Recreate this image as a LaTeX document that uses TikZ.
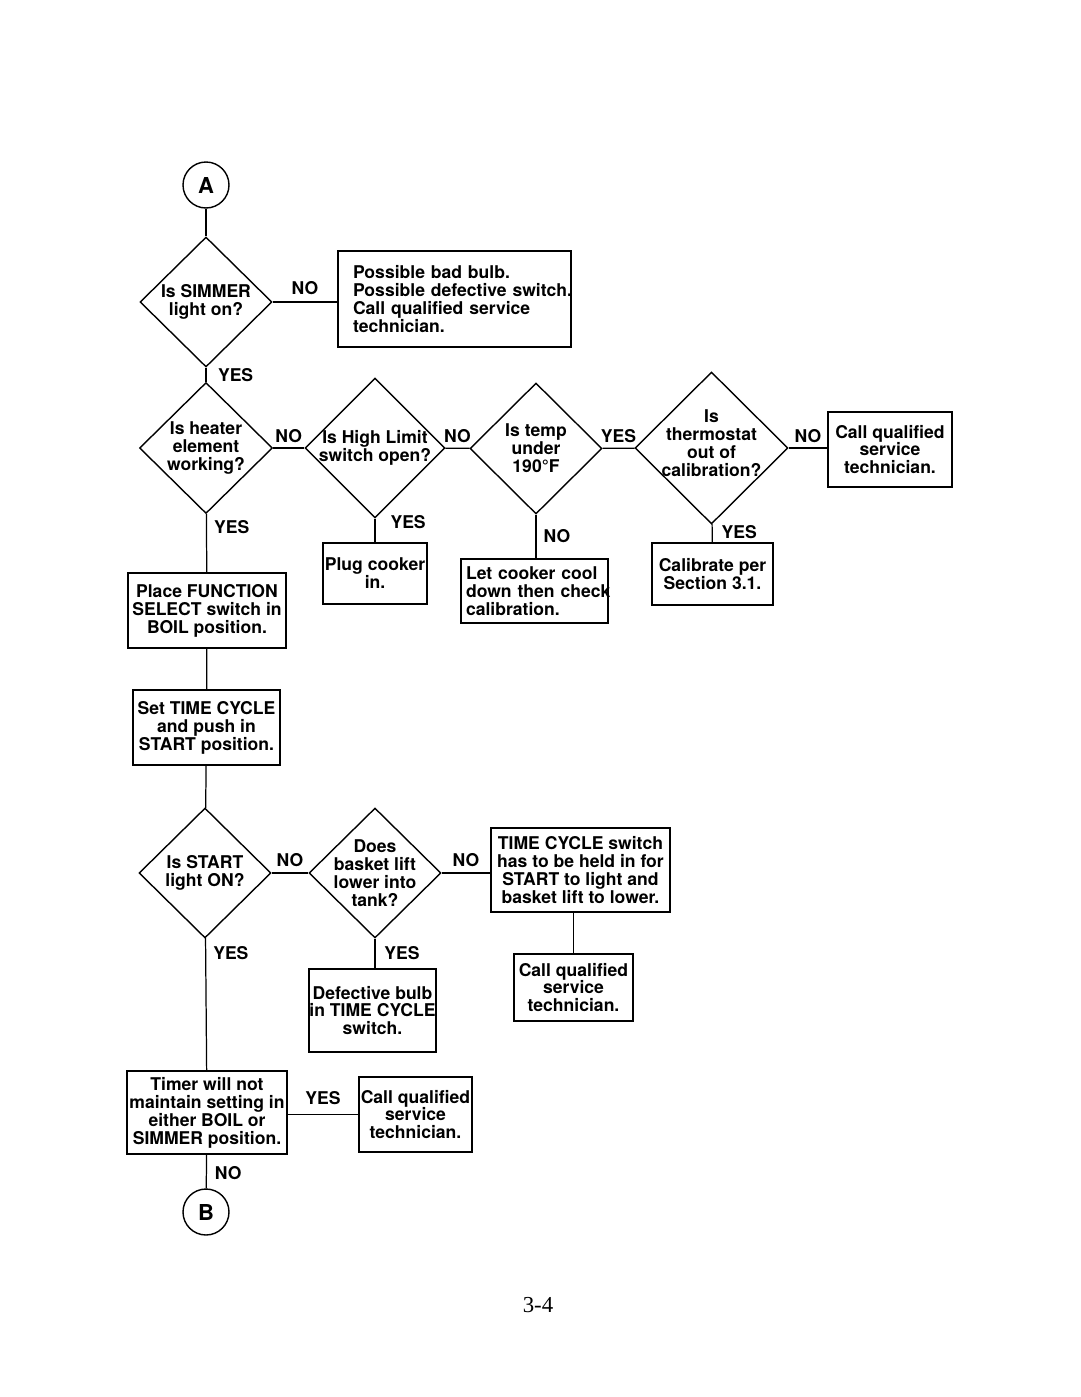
\documentclass[tikz,border=0pt]{standalone}
\usepackage{fontspec}
\setmainfont{TeX Gyre Heros}
\newfontfamily\pagefont{Liberation Serif}
\usetikzlibrary{shapes.geometric}

\tikzstyle{block} = [
        draw,
        fill=white,
        rectangle,
        line width=0.8pt,
        inner sep=0pt,
        align=center
    ]
\tikzstyle{decision} = [
        draw,
        fill=white,
        diamond,
        line width=0.8pt,
        inner sep=0pt
    ]
\tikzstyle{conn} = [
        draw,
        circle,
        line width=0.8pt,
        minimum size=0.92cm,
        inner sep=0pt,
        font=\bfseries\fontsize{12.5}{12.5}\selectfont
    ]
\tikzstyle{qtext} = [align=center, inner sep=0pt]
\tikzstyle{lbl} = [inner sep=0pt]

\begin{document}
\begin{tikzpicture}[x=0.02cm, y=-0.02cm, line width=0.7pt,
        font=\bfseries\fontsize{10}{10.2}\selectfont]
        \useasboundingbox (0,0) rectangle (1080,1397);
        % top: simmer light
        \node(cira) [conn] at (206,185) {A};
        \node(simr) [decision, minimum width=2.64cm, minimum height=2.6cm,
            label={[qtext]center:Is SIMMER\\light on?}] at (206,302) {};
        \node(bulb) [block, align=left, inner xsep=0.3cm, text width=4.06cm,
            minimum height=1.92cm] at (454.5,299)
            {\mbox{Possible bad bulb.}\\\mbox{Possible defective switch.}\\
             \mbox{Call qualified service}\\\mbox{technician.}};
        % heater row
        \node(heat) [decision, minimum width=2.66cm, minimum height=2.62cm,
            label={[qtext]center:Is heater\\element\\working?}] at (206,448) {};
        \node(hlim) [decision, minimum width=2.8cm, minimum height=2.8cm,
            label={[qtext]center:Is High Limit\\switch open?}] at (375,448) {};
        \node(temp) [decision, minimum width=2.64cm, minimum height=2.62cm,
            label={[qtext]center:Is temp\\under\\190°F}] at (536,448.5) {};
        \node(thrm) [decision, minimum width=3.06cm, minimum height=3.04cm,
            label={[qtext, yshift=0.1cm]center:Is\\thermostat\\out of\\calibration?}] at (711.5,448) {};
        \node(cal1) [block, minimum width=2.48cm, minimum height=1.5cm] at (890,449.5)
            {Call qualified\\service\\technician.};
        \node(plug) [block, minimum width=2.08cm, minimum height=1.22cm] at (375,573.5)
            {Plug cooker\\in.};
        \node(cool) [block, align=left, inner xsep=0.1cm, text width=2.74cm,
            minimum height=1.28cm] at (534.5,591)
            {\mbox{Let cooker cool}\\\mbox{down then check}\\\mbox{calibration.}};
        \node(calb) [block, minimum width=2.42cm, minimum height=1.24cm] at (712.5,574)
            {Calibrate per\\Section 3.1.};
        \node(boil) [block, minimum width=3.16cm, minimum height=1.5cm] at (207,610.5)
            {Place FUNCTION\\SELECT switch in\\BOIL position.};
        \node(tcyc) [block, minimum width=2.94cm, minimum height=1.5cm] at (206.5,727.5)
            {Set TIME CYCLE\\and push in\\START position.};
        % start light row
        \node(strt) [decision, minimum width=2.64cm, minimum height=2.6cm,
            label={[qtext]center:Is START\\light ON?}] at (205,873) {};
        \node(bask) [decision, minimum width=2.64cm, minimum height=2.6cm,
            label={[qtext]center:Does\\basket lift\\lower into\\tank?}] at (375,873) {};
        \node(hold) [block, minimum width=3.58cm, minimum height=1.68cm] at (580.5,870)
            {TIME CYCLE switch\\has to be held in for\\START to light and\\basket lift to lower.};
        \node(cal2) [block, minimum width=2.38cm, minimum height=1.34cm] at (573.5,987.5)
            {Call qualified\\service\\technician.};
        \node(defb) [block, minimum width=2.54cm, minimum height=1.66cm] at (372.5,1010.5)
            {Defective bulb\\in TIME CYCLE\\switch.};
        \node(timr) [block, minimum width=3.2cm, minimum height=1.66cm] at (207,1112.5)
            {Timer will not\\maintain setting in\\either BOIL or\\SIMMER position.};
        \node(cal3) [block, minimum width=2.26cm, minimum height=1.5cm] at (415.5,1114.5)
            {Call qualified\\service\\technician.};
        \node(cirb) [conn] at (206,1212) {B};
        \node(pnum) [font=\pagefont\fontsize{13}{13}\selectfont] at (538,1305) {3-4};
        % connectors
        \draw (cira) -- (simr);
        \draw (simr) -- node[lbl, above=4pt]{NO} (simr -| bulb.west);
        \draw (simr) -- node[lbl, right=6.5pt]{YES} (heat);
        \draw (heat) -- node[lbl, above=2.5pt]{NO} (hlim);
        \draw (hlim) -- node[lbl, above=3pt]{NO} (temp);
        \draw (temp) -- node[lbl, above=3pt]{YES} (thrm);
        \draw (thrm) -- node[lbl, above=2.5pt]{NO} (thrm -| cal1.west);
        \draw (heat) -- node[lbl, right=4pt, pos=.22]{YES} (boil);
        \draw (hlim) -- node[lbl, right=8.5pt, pos=.15]{YES} (plug);
        \draw (temp) -- node[lbl, right=4pt]{NO} (temp |- cool.north);
        \draw (thrm) -- node[lbl, right=5pt, pos=.45]{YES} (calb);
        \draw (boil) -- (tcyc);
        \draw (tcyc) -- (strt);
        \draw (strt) -- node[lbl, above=3pt]{NO} (bask);
        \draw (bask) -- node[lbl, above=3.5pt]{NO} (bask -| hold.west);
        \draw (hold.south -| cal2) -- (cal2);
        \draw (strt) -- node[lbl, right=4pt, pos=.11]{YES} (timr);
        \draw (bask) -- node[lbl, right=5pt]{YES} (bask |- defb.north);
        \draw (timr.east |- cal3) -- node[lbl, above=5pt]{YES} (cal3);
        \draw (timr) -- node[lbl, right=4.5pt, pos=.55]{NO} (cirb);
    \end{tikzpicture}
\end{document}
